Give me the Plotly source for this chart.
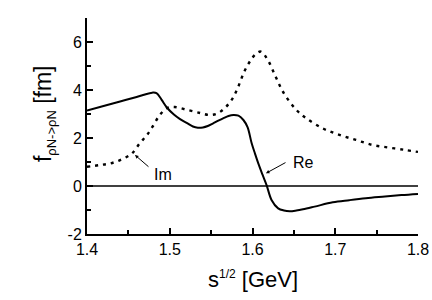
import plotly.graph_objects as go

# Real part (solid)
re_s = [1.400, 1.420, 1.440, 1.460, 1.479, 1.484, 1.490, 1.497, 1.505, 1.512, 1.521, 1.528, 1.534, 1.540, 1.546, 1.552, 1.558, 1.565, 1.571, 1.577, 1.583, 1.589, 1.594, 1.599, 1.603, 1.607, 1.612, 1.617, 1.623, 1.631, 1.638, 1.645, 1.653, 1.661, 1.675, 1.697, 1.717, 1.737, 1.760, 1.780, 1.800]
re_v = [3.14, 3.33, 3.52, 3.71, 3.89, 3.87, 3.60, 3.25, 2.98, 2.80, 2.62, 2.48, 2.43, 2.44, 2.50, 2.60, 2.71, 2.83, 2.92, 2.96, 2.93, 2.75, 2.45, 1.78, 1.35, 0.94, 0.48, 0.04, -0.58, -0.93, -1.02, -1.05, -1.02, -0.97, -0.86, -0.68, -0.59, -0.51, -0.44, -0.38, -0.33]

# Imaginary part (dotted)
im_s = [1.400, 1.415, 1.428, 1.440, 1.454, 1.464, 1.472, 1.479, 1.488, 1.497, 1.506, 1.521, 1.537, 1.548, 1.558, 1.568, 1.576, 1.582, 1.590, 1.598, 1.604, 1.610, 1.618, 1.628, 1.638, 1.653, 1.665, 1.685, 1.705, 1.725, 1.745, 1.765, 1.785, 1.800]
im_v = [0.80, 0.87, 0.94, 1.08, 1.35, 1.79, 2.10, 2.46, 2.96, 3.25, 3.29, 3.17, 3.04, 2.96, 3.03, 3.30, 3.65, 4.07, 4.76, 5.25, 5.50, 5.60, 5.28, 4.55, 3.86, 3.17, 2.82, 2.40, 2.13, 1.92, 1.71, 1.60, 1.50, 1.42]

x_ticks = [1.4, 1.5, 1.6, 1.7, 1.8]
x_tick_labels = ["1.4", "1.5", "1.6", "1.7", "1.8"]
y_ticks = [-2, 0, 2, 4, 6]
y_tick_labels = ["-2", "0", "2", "4", "6"]

# label / arrow anchors (data coordinates)
re_label = (1.6465, 0.96)
re_arrow_tail = (1.6417, 1.01)
re_arrow_tip = (1.6163, 0.53)
im_label = (1.4924, 0.46)
im_arrow_tail = (1.4761, 0.75)
im_arrow_tip = (1.4580, 1.29)

font = "Liberation Sans, Arial, sans-serif"

fig = go.Figure()
fig.add_trace(go.Scatter(x=[1.4, 1.8], y=[0, 0], mode="lines",
                         line=dict(color="black", width=1.6), hoverinfo="skip"))
fig.add_trace(go.Scatter(x=im_s, y=im_v, mode="lines", line_shape="spline",
                         line=dict(color="black", width=2.4, dash="3px,5px")))
fig.add_trace(go.Scatter(x=re_s, y=re_v, mode="lines", line_shape="spline",
                         line=dict(color="black", width=2)))

for tail, tip in [(re_arrow_tail, re_arrow_tip), (im_arrow_tail, im_arrow_tip)]:
    fig.add_annotation(x=tip[0], y=tip[1], ax=tail[0], ay=tail[1], axref="x", ayref="y",
                       text="", showarrow=True, arrowhead=2, arrowsize=0.7,
                       arrowwidth=1, arrowcolor="black", standoff=0)

fig.add_annotation(x=re_label[0], y=re_label[1], text="Re", showarrow=False,
                   xanchor="left", yanchor="middle", font=dict(size=16))
fig.add_annotation(x=im_label[0], y=im_label[1], text="Im", showarrow=False,
                   xanchor="center", yanchor="middle", font=dict(size=16))

fig.update_layout(
    width=432, height=300,
    margin=dict(l=87, r=14, t=18, b=66),
    paper_bgcolor="white", plot_bgcolor="white",
    showlegend=False,
    font=dict(family=font, size=16, color="black"),
)
fig.update_xaxes(range=[1.4, 1.8], tickvals=x_ticks, ticktext=x_tick_labels,
                 ticks="inside", ticklen=6, tickwidth=1.5, tickcolor="black",
                 showline=True, linecolor="black", linewidth=2, mirror=False,
                 showgrid=False, zeroline=False, automargin=False,
                 minor=dict(dtick=0.05, tick0=1.4, ticks="inside", ticklen=4, tickwidth=1.5, tickcolor="black"),
                 tickfont=dict(size=16))
fig.update_yaxes(range=[-2, 7], tickvals=y_ticks, ticktext=y_tick_labels,
                 ticks="inside", ticklen=6, tickwidth=1.5, tickcolor="black",
                 showline=True, linecolor="black", linewidth=2, mirror=False,
                 showgrid=False, zeroline=False, automargin=False,
                 minor=dict(dtick=1, tick0=-2, ticks="inside", ticklen=4, tickwidth=1.5, tickcolor="black"),
                 tickfont=dict(size=16))

# axis titles as paper-positioned annotations
fig.add_annotation(xref="paper", yref="paper", x=0.5, y=-0.21, yanchor="middle",
                   xanchor="center", showarrow=False,
                   text="s<sup><span style='font-size:12px'>1/2</span></sup> [GeV]",
                   font=dict(size=22))
fig.add_annotation(xref="paper", yref="paper", x=-0.128, y=0.558, xanchor="center",
                   yanchor="middle", showarrow=False, textangle=-90,
                   text="f<sub><span style='font-size:13px'>ρN->ρN</span></sub> [fm]",
                   font=dict(size=23))

fig.write_html("out.html", config={"displayModeBar": False},
               post_script="document.body.style.margin='0';")
